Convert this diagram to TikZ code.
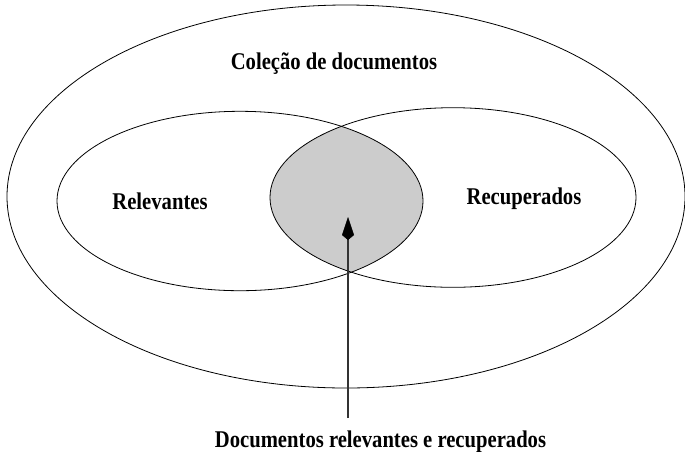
\documentclass[tikz,border=0pt]{standalone}
\usepackage{fontspec}
\setmainfont{Liberation Serif}
\usetikzlibrary{arrows.meta}
\definecolor{lensgray}{HTML}{CCCCCC}
\definecolor{linegray}{HTML}{333333}
\tikzset{
  setline/.style={draw=black, line width=0.8pt},
  lbl/.style={anchor=base, inner sep=0pt, font=\fontsize{24}{28}\selectfont\bfseries},
  conn/.style={draw=linegray, line width=1.3pt, -{Kite[length=23pt,width=12pt,inset=5pt,color=black,fill=black,line width=0.4pt]}},
}
\newcommand{\cond}[1]{\scalebox{0.86}[1]{#1}}
\begin{document}
\begin{tikzpicture}[x=1pt,y=-1pt]
  \useasboundingbox (0,0) rectangle (685,451);
  % shaded intersection
  \begin{scope}
    \clip (240,201) ellipse [x radius=183pt, y radius=89.7pt];
    \fill[lensgray] (453,197.5) ellipse [x radius=183pt, y radius=89.8pt];
  \end{scope}
  % sets
  \draw[setline] (346,196.5) ellipse [x radius=339pt, y radius=191.5pt];
  \draw[setline] (240,201) ellipse [x radius=183pt, y radius=89.7pt];
  \draw[setline] (453,197.5) ellipse [x radius=183pt, y radius=89.8pt];
  % labels
  \node[lbl] (colecao) at (334,69) {\cond{Coleção de documentos}};
  \node[lbl] (relev) at (160,209) {\cond{Relevantes}};
  \node[lbl] (recup) at (524,204) {\cond{Recuperados}};
  \node[lbl] (both) at (380.5,447) {\cond{Documentos relevantes e recuperados}};
  % connector
  \coordinate (tip) at (348,217);
  \draw[conn] ([yshift=12pt]tip |- both.north) -- (tip);
\end{tikzpicture}
\end{document}
